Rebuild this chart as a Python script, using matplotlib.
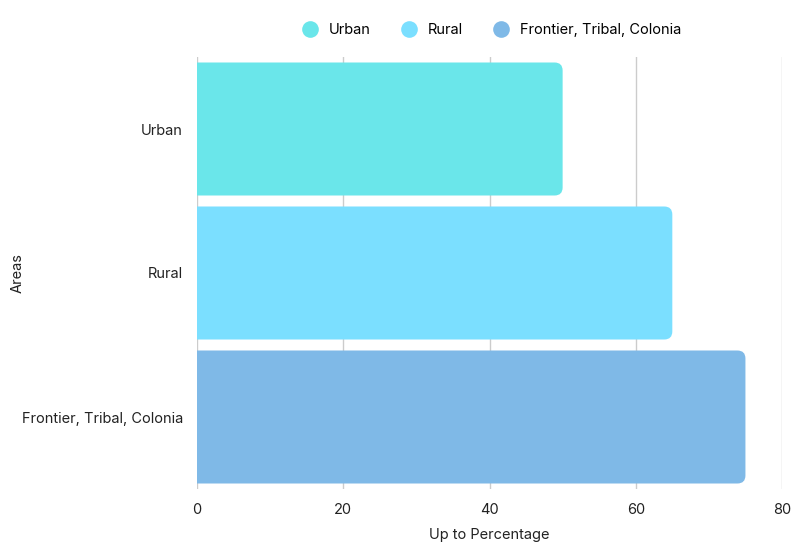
import matplotlib
matplotlib.use("Agg")
import matplotlib.pyplot as plt
from matplotlib.patches import FancyBboxPatch
from matplotlib.lines import Line2D

plt.rcParams['font.family'] = ['Inter', 'DejaVu Sans']

areas = ["Urban", "Rural", "Frontier, Tribal, Colonia"]
values = [50, 65, 75]
colors = ["#6ae6ea", "#7bdfff", "#7fb9e7"]

fig = plt.figure(figsize=(8.06, 5.46), dpi=100)
ax = fig.add_axes([197 / 806, 1 - 489 / 546, 585 / 806, 432 / 546])
ax.set_xlim(0, 80)
ax.set_ylim(2.5, -0.5)

h = 133 / 144
# x units per px vs y units per px, for round corners
aspect = (1 / 144) / (80 / 585)
for i, (v, c) in enumerate(zip(values, colors)):
    p = FancyBboxPatch((-3, i - h / 2), v + 3, h,
                       boxstyle="round,pad=0,rounding_size=1.1",
                       mutation_aspect=aspect, facecolor=c, edgecolor="none",
                       zorder=3)
    ax.add_patch(p)

ax.set_xticks([0, 20, 40, 60, 80])
ax.set_yticks(range(len(areas)))
ax.set_yticklabels(areas)
ax.grid(axis="x", color="#cccccc", linewidth=1, zorder=0)
ax.tick_params(length=0, labelsize=10.5, pad=10, colors="#222222")
for s in ax.spines.values():
    s.set_visible(False)
ax.set_xlabel("Up to Percentage", fontsize=10.5, color="#222222", labelpad=8)
ax.set_ylabel("Areas", fontsize=10.5, color="#222222", labelpad=10)
ax.yaxis.set_label_coords(-197 / 585 + 25 / 585, 0.5)

handles = [Line2D([], [], marker="o", linestyle="none", markersize=12,
                  markerfacecolor=c, markeredgecolor="none") for c in colors]
fig.legend(handles, areas, loc="center", bbox_to_anchor=(488 / 806, 1 - 30 / 546),
           ncol=3, frameon=False, fontsize=10.5, handletextpad=0.3,
           columnspacing=1.6)

fig.savefig("out.png", dpi=100)
